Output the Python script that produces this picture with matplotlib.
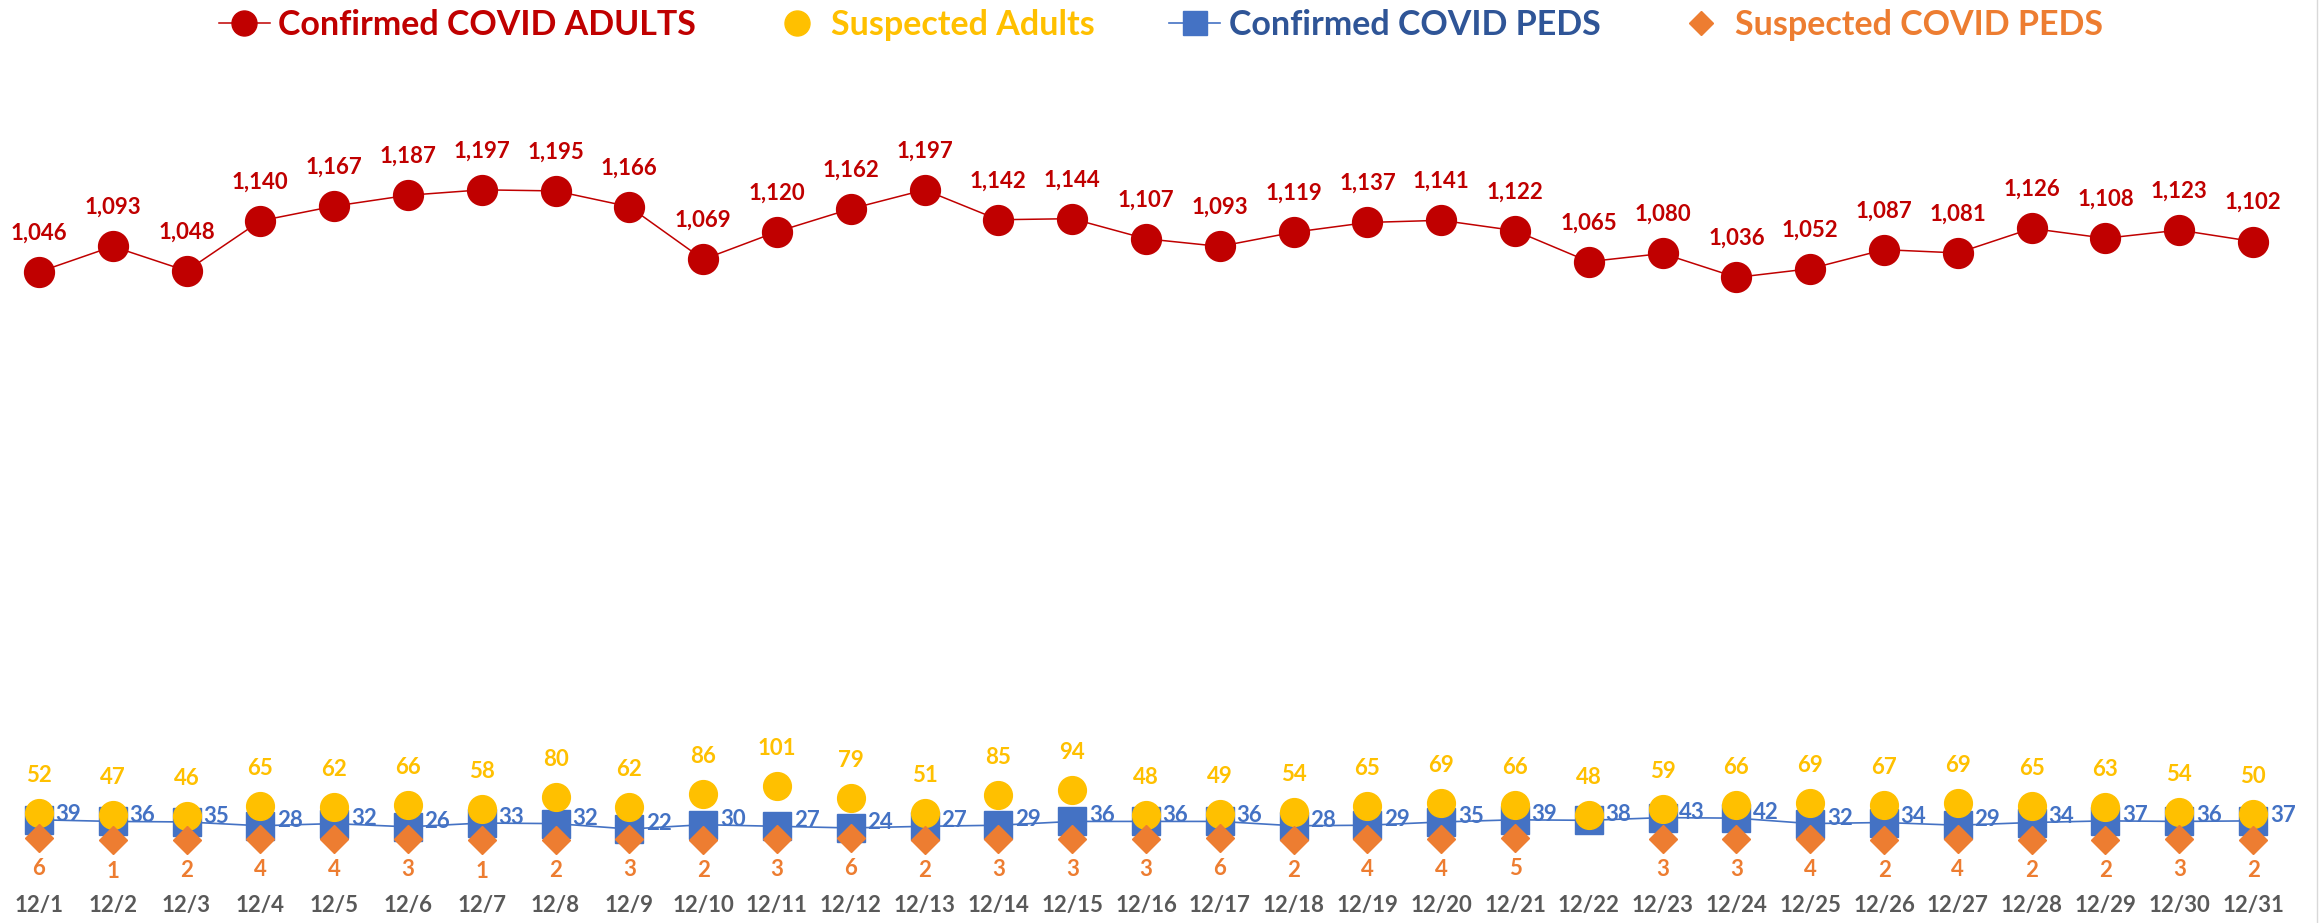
import numpy as np
import matplotlib
matplotlib.use("Agg")
import matplotlib.pyplot as plt
from matplotlib.lines import Line2D

plt.rcParams['font.family'] = ['Lato', 'DejaVu Sans']
plt.rcParams['font.weight'] = 'bold'

dates = ["12/%d" % d for d in range(1, 32)]
confirmed_adults = [1046, 1093, 1048, 1140, 1167, 1187, 1197, 1195, 1166, 1069, 1120, 1162, 1197, 1142, 1144, 1107,
                    1093, 1119, 1137, 1141, 1122, 1065, 1080, 1036, 1052, 1087, 1081, 1126, 1108, 1123, 1102]
suspected_adults = [52, 47, 46, 65, 62, 66, 58, 80, 62, 86, 101, 79, 51, 85, 94, 48,
                    49, 54, 65, 69, 66, 48, 59, 66, 69, 67, 69, 65, 63, 54, 50]
confirmed_peds = [39, 36, 35, 28, 32, 26, 33, 32, 22, 30, 27, 24, 27, 29, 36, 36,
                  36, 28, 29, 35, 39, 38, 43, 42, 32, 34, 29, 34, 37, 36, 37]
suspected_peds = [6, 1, 2, 4, 4, 3, 1, 2, 3, 2, 3, 6, 2, 3, 3, 3,
                  6, 2, 4, 4, 5, np.nan, 3, 3, 4, 2, 4, 2, 2, 3, 2]

RED = "#C00000"
YEL = "#FFC000"
BLUE = "#4472C4"
BLUE_TXT = "#2F5597"
ORANGE = "#ED7D31"
GREY = "#595959"

W, H = 2322, 923
fig = plt.figure(figsize=(W / 100, H / 100), dpi=100)
ax = fig.add_axes([2 / W, 82 / H, 2288 / W, 761.6 / H])
x = np.arange(len(dates))

ax.plot(x, confirmed_peds, color=BLUE, lw=1.2, marker='s', ms=20, mfc=BLUE, mec=BLUE, zorder=2, clip_on=False)
ax.plot(x, confirmed_adults, color=RED, lw=1.1, marker='o', ms=21.5, mfc=RED, mec=RED, zorder=3, clip_on=False)
ax.plot(x, suspected_adults, ls='none', marker='o', ms=20, mfc=YEL, mec=YEL, zorder=4, clip_on=False)
ax.plot(x, suspected_peds, ls='none', marker='D', ms=14.5, mfc=ORANGE, mec=ORANGE, zorder=5, clip_on=False)

fs = 16
for i in x:
    ax.annotate("{:,}".format(confirmed_adults[i]), (i, confirmed_adults[i]), xytext=(0, 28),
                textcoords='offset points', ha='center', va='center', color=RED, fontsize=fs, fontweight='bold')
    ax.annotate(str(suspected_adults[i]), (i, suspected_adults[i]), xytext=(0, 27),
                textcoords='offset points', ha='center', va='center', color=YEL, fontsize=fs, fontweight='bold')
    ax.annotate(str(confirmed_peds[i]), (i, confirmed_peds[i]), xytext=(12, 4),
                textcoords='offset points', ha='left', va='center', color=BLUE, fontsize=fs, fontweight='bold')
    if not np.isnan(suspected_peds[i]):
        ax.annotate(str(int(suspected_peds[i])), (i, suspected_peds[i]), xytext=(0, -22),
                    textcoords='offset points', ha='center', va='center', color=ORANGE, fontsize=fs, fontweight='bold')

ax.set_xlim(-0.5, len(dates) - 0.5)
ax.set_ylim(0, 1400)
ax.set_xticks(x)
ax.set_xticklabels(dates, fontsize=16, fontweight='bold', color=GREY)
ax.set_yticks([])
ax.tick_params(axis='x', length=0, pad=39)
for s in ax.spines.values():
    s.set_visible(False)

handles = [
    Line2D([], [], color=RED, lw=1.1, marker='o', ms=18, mfc=RED, mec=RED),
    Line2D([], [], ls='none', marker='o', ms=18, mfc=YEL, mec=YEL),
    Line2D([], [], color=BLUE, lw=1.2, marker='s', ms=17, mfc=BLUE, mec=BLUE),
    Line2D([], [], ls='none', marker='D', ms=12, mfc=ORANGE, mec=ORANGE),
]
labels = ["Confirmed COVID ADULTS", "Suspected Adults", "Confirmed COVID PEDS", "Suspected COVID PEDS"]
leg = fig.legend(handles, labels, loc='center', bbox_to_anchor=(0.5, 1 - 25 / H), ncol=4, frameon=False,
                 prop={'size': 24.5, 'weight': 'bold'}, handlelength=1.5, handletextpad=0.25, columnspacing=2.2)
for t, c in zip(leg.get_texts(), [RED, YEL, BLUE_TXT, ORANGE]):
    t.set_color(c)

fig.add_artist(Line2D([2317 / W, 2317 / W], [0, 1], color="#D9D9D9", lw=1, transform=fig.transFigure))

fig.savefig("out.png", dpi=100)
